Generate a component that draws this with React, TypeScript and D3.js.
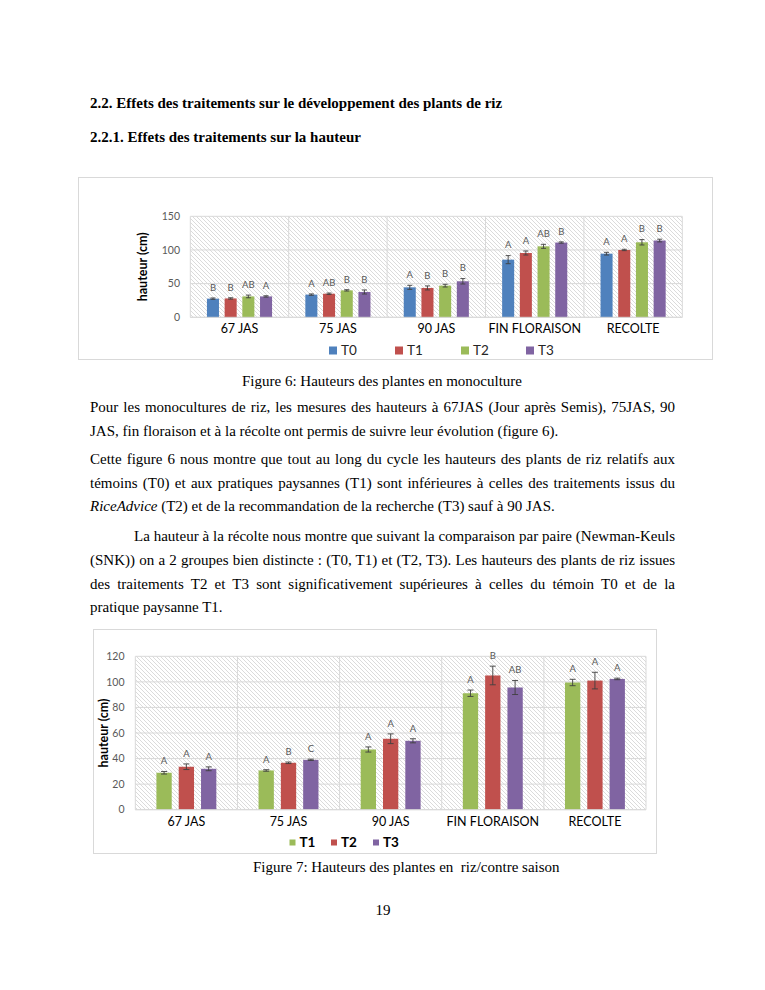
import React, { useEffect, useRef } from 'react';
import * as d3 from 'd3';

// ---- data ----
const categories = ['67 JAS', '75 JAS', '90 JAS', 'FIN FLORAISON', 'RECOLTE'];

// Figure 6 : monoculture
const monoNames = ['T0', 'T1', 'T2', 'T3'];
const monoColors = ['#4f81bd', '#c0504d', '#9bbb59', '#8064a2'];
const monoT0 = [27.7, 33.7, 44.5, 85.6, 94.5];
const monoT1 = [28.0, 35.0, 43.6, 95.5, 100.0];
const monoT2 = [31.0, 40.0, 47.0, 105.4, 111.4];
const monoT3 = [31.0, 37.6, 53.5, 111.0, 114.0];
const monoErrT0 = [1, 1, 3, 6, 2];
const monoErrT1 = [1, 1, 3, 3, 1];
const monoErrT2 = [2, 1, 2, 3, 4];
const monoErrT3 = [1, 3, 4, 1, 2];
const monoLetT0 = ['B', 'A', 'A', 'A', 'A'];
const monoLetT1 = ['B', 'AB', 'B', 'A', 'A'];
const monoLetT2 = ['AB', 'B', 'B', 'AB', 'B'];
const monoLetT3 = ['A', 'B', 'B', 'B', 'B'];
const monoTicks = [0, 50, 100, 150];

// Figure 7 : riz / contre saison
const csNames = ['T1', 'T2', 'T3'];
const csColors = ['#9bbb59', '#c0504d', '#8064a2'];
const csT1 = [28.9, 30.7, 47.1, 91.1, 99.5];
const csT2 = [33.6, 36.7, 55.5, 105.0, 101.0];
const csT3 = [32.0, 39.0, 53.9, 95.6, 102.3];
const csErrT1 = [1, 0.6, 2, 2.5, 2.5];
const csErrT2 = [2.2, 0.6, 3.8, 7.3, 6.5];
const csErrT3 = [1.5, 0.5, 1.6, 5.5, 0.6];
const csLetT1 = ['A', 'A', 'A', 'A', 'A'];
const csLetT2 = ['A', 'B', 'A', 'B', 'A'];
const csLetT3 = ['A', 'C', 'A', 'AB', 'A'];
const csTicks = [0, 20, 40, 60, 80, 100, 120];

const chartFont = 'Lato, "Open Sans", sans-serif';

interface ChartCfg {
  id: string;
  frame: { x: number; y: number; w: number; h: number };
  plot: { left: number; right: number; top: number; bottom: number };
  yMax: number;
  ticks: number[];
  tickX: number;
  titleX: number;
  catY: number;
  catSize: number;
  names: string[];
  colors: string[];
  values: number[][];
  errors: number[][];
  letters: string[][];
  padIn: number;
  padOut: number;
  capW: number;
  legendY: number;
  legendX: number[];
  legendSq: number;
  legendBold: boolean;
  legendSize: number;
}

function drawChart(node: SVGGElement, cfg: ChartCfg) {
  const g = d3.select(node);
  g.selectAll('*').remove();
  const { plot } = cfg;

  const x0 = d3.scaleBand<string>().domain(categories).range([plot.left, plot.right]);
  const x1 = d3
    .scaleBand<string>()
    .domain(cfg.names)
    .range([0, x0.bandwidth()])
    .paddingInner(cfg.padIn)
    .paddingOuter(cfg.padOut);
  const y = d3.scaleLinear().domain([0, cfg.yMax]).range([plot.bottom, plot.top]);

  // frame
  g.append('rect')
    .attr('x', cfg.frame.x + 0.5)
    .attr('y', cfg.frame.y + 0.5)
    .attr('width', cfg.frame.w)
    .attr('height', cfg.frame.h)
    .attr('fill', '#fff')
    .attr('stroke', '#d9d9d9');

  // hatched plot area
  const pat = g
    .append('defs')
    .append('pattern')
    .attr('id', cfg.id)
    .attr('patternUnits', 'userSpaceOnUse')
    .attr('width', 4)
    .attr('height', 4);
  pat.append('path')
    .attr('d', 'M-1,-1 L5,5 M-1,3 L1,5 M3,-1 L5,1')
    .attr('stroke', '#cccccc')
    .attr('stroke-width', 0.7);
  g.append('rect')
    .attr('x', plot.left)
    .attr('y', plot.top)
    .attr('width', plot.right - plot.left)
    .attr('height', plot.bottom - plot.top)
    .attr('fill', `url(#${cfg.id})`);

  // grid
  g.selectAll('line.hgrid')
    .data(cfg.ticks)
    .enter()
    .append('line')
    .attr('x1', plot.left)
    .attr('x2', plot.right)
    .attr('y1', (d) => y(d))
    .attr('y2', (d) => y(d))
    .attr('stroke', '#d9d9d9')
    .attr('stroke-width', 1);
  const edges = categories.map((c) => x0(c)!).concat([plot.right]);
  g.selectAll('line.vgrid')
    .data(edges)
    .enter()
    .append('line')
    .attr('x1', (d) => d)
    .attr('x2', (d) => d)
    .attr('y1', plot.top)
    .attr('y2', plot.bottom)
    .attr('stroke', '#d9d9d9')
    .attr('stroke-width', 1);

  // tick labels
  g.selectAll('text.tick')
    .data(cfg.ticks)
    .enter()
    .append('text')
    .attr('x', cfg.tickX)
    .attr('y', (d) => y(d))
    .attr('dy', '0.35em')
    .attr('text-anchor', 'end')
    .attr('font-family', chartFont)
    .attr('font-size', 10.5)
    .attr('fill', '#595959')
    .text((d) => d);

  // y title
  g.append('text')
    .attr('transform', `translate(${cfg.titleX},${(plot.top + plot.bottom) / 2}) rotate(-90)`)
    .attr('text-anchor', 'middle')
    .attr('dy', '0.35em')
    .attr('font-family', chartFont)
    .attr('font-size', 12.5)
    .attr('font-weight', 700)
    .attr('fill', '#000')
    .text('hauteur (cm)');

  // category labels
  g.selectAll('text.cat')
    .data(categories)
    .enter()
    .append('text')
    .attr('x', (d) => x0(d)! + x0.bandwidth() / 2)
    .attr('y', cfg.catY)
    .attr('dy', '0.35em')
    .attr('text-anchor', 'middle')
    .attr('font-family', chartFont)
    .attr('font-size', cfg.catSize)
    .attr('fill', '#000')
    .text((d) => d);

  // bars, error bars, letters
  cfg.names.forEach((name, si) => {
    const rows = categories.map((c, i) => ({
      c,
      v: cfg.values[si][i],
      e: cfg.errors[si][i],
      l: cfg.letters[si][i],
    }));
    const sg = g.append('g');
    const bx = (d: any) => x0(d.c)! + x1(name)!;
    const bw = x1.bandwidth();
    sg.selectAll('rect')
      .data(rows)
      .enter()
      .append('rect')
      .attr('x', bx)
      .attr('y', (d) => y(d.v))
      .attr('width', bw)
      .attr('height', (d) => y(0) - y(d.v))
      .attr('fill', cfg.colors[si]);
    const eg = sg
      .selectAll('g.err')
      .data(rows)
      .enter()
      .append('g')
      .attr('stroke', '#404040')
      .attr('stroke-width', 0.9);
    eg.append('line')
      .attr('x1', (d) => bx(d) + bw / 2)
      .attr('x2', (d) => bx(d) + bw / 2)
      .attr('y1', (d) => y(d.v - d.e))
      .attr('y2', (d) => y(d.v + d.e));
    eg.append('line')
      .attr('x1', (d) => bx(d) + bw / 2 - cfg.capW / 2)
      .attr('x2', (d) => bx(d) + bw / 2 + cfg.capW / 2)
      .attr('y1', (d) => y(d.v + d.e))
      .attr('y2', (d) => y(d.v + d.e));
    eg.append('line')
      .attr('x1', (d) => bx(d) + bw / 2 - cfg.capW / 2)
      .attr('x2', (d) => bx(d) + bw / 2 + cfg.capW / 2)
      .attr('y1', (d) => y(d.v - d.e))
      .attr('y2', (d) => y(d.v - d.e));
    sg.selectAll('text')
      .data(rows)
      .enter()
      .append('text')
      .attr('x', (d) => bx(d) + bw / 2)
      .attr('y', (d) => y(d.v + d.e) - 10.5)
      .attr('dy', '0.35em')
      .attr('text-anchor', 'middle')
      .attr('font-family', chartFont)
      .attr('font-size', 9.5)
      .attr('fill', '#595959')
      .text((d) => d.l);
  });

  // axis line at 0
  g.append('line')
    .attr('x1', plot.left)
    .attr('x2', plot.right)
    .attr('y1', y(0))
    .attr('y2', y(0))
    .attr('stroke', '#d9d9d9');

  // legend
  const lg = g
    .selectAll('g.legend')
    .data(cfg.names)
    .enter()
    .append('g')
    .attr('transform', (_, i) => `translate(${cfg.legendX[i]},${cfg.legendY})`);
  lg.append('rect')
    .attr('x', 0)
    .attr('y', -cfg.legendSq / 2)
    .attr('width', cfg.legendSq)
    .attr('height', cfg.legendSq)
    .attr('fill', (_, i) => cfg.colors[i]);
  lg.append('text')
    .attr('x', cfg.legendSq + 4)
    .attr('y', 0)
    .attr('dy', '0.35em')
    .attr('font-family', chartFont)
    .attr('font-size', cfg.legendSize)
    .attr('font-weight', cfg.legendBold ? 700 : 400)
    .attr('fill', cfg.legendBold ? '#000' : '#262626')
    .text((d) => d);
}

const monoCfg: ChartCfg = {
  id: 'hatch1',
  frame: { x: 78, y: 177, w: 634, h: 182 },
  plot: { left: 190.3, right: 682.3, top: 216.3, bottom: 317.3 },
  yMax: 150,
  ticks: monoTicks,
  tickX: 180,
  titleX: 143,
  catY: 329,
  catSize: 12.5,
  names: monoNames,
  colors: monoColors,
  values: [monoT0, monoT1, monoT2, monoT3],
  errors: [monoErrT0, monoErrT1, monoErrT2, monoErrT3],
  letters: [monoLetT0, monoLetT1, monoLetT2, monoLetT3],
  padIn: 0.32,
  padOut: 0.94,
  capW: 5,
  legendY: 350.5,
  legendX: [329, 395, 461, 526],
  legendSq: 8,
  legendBold: false,
  legendSize: 13.5,
};

const csCfg: ChartCfg = {
  id: 'hatch2',
  frame: { x: 93, y: 629, w: 563, h: 224 },
  plot: { left: 135.3, right: 646, top: 656.3, bottom: 809.7 },
  yMax: 120,
  ticks: csTicks,
  tickX: 124.5,
  titleX: 104,
  catY: 822,
  catSize: 12.5,
  names: csNames,
  colors: csColors,
  values: [csT1, csT2, csT3],
  errors: [csErrT1, csErrT2, csErrT3],
  letters: [csLetT1, csLetT2, csLetT3],
  padIn: 0.314,
  padOut: 0.946,
  capW: 6,
  legendY: 842.5,
  legendX: [289.5, 331, 373],
  legendSq: 6,
  legendBold: true,
  legendSize: 13.5,
};

const Chart: React.FC<{ cfg: ChartCfg }> = ({ cfg }) => {
  const ref = useRef<SVGGElement>(null);
  useEffect(() => {
    if (ref.current) drawChart(ref.current, cfg);
  }, [cfg]);
  return <g ref={ref} />;
};

// ---- page text ----
const serif = '"Liberation Serif", "Times New Roman", serif';

interface Line {
  y: number;
  text: React.ReactNode;
  justify: boolean;
  indent?: number;
}

const bodyLines: Line[] = [
  { y: 407, justify: true, text: 'Pour les monocultures de riz, les mesures des hauteurs à 67JAS (Jour après Semis), 75JAS, 90' },
  { y: 431, justify: false, text: 'JAS, fin floraison et à la récolte ont permis de suivre leur évolution (figure 6).' },
  { y: 459, justify: true, text: 'Cette figure 6 nous montre que tout au long du cycle les hauteurs des plants de riz relatifs aux' },
  { y: 482.5, justify: true, text: 'témoins (T0) et aux pratiques paysannes (T1) sont inférieures à celles des traitements issus du' },
  {
    y: 506,
    justify: false,
    text: (
      <>
        <i>RiceAdvice</i> (T2) et de la recommandation de la recherche (T3) sauf à 90 JAS.
      </>
    ),
  },
  { y: 536, justify: true, indent: 44, text: 'La hauteur à la récolte nous montre que suivant la comparaison par paire (Newman-Keuls' },
  { y: 559.5, justify: true, text: '(SNK)) on a 2 groupes bien distincte : (T0, T1) et (T2, T3). Les hauteurs des plants de riz issues' },
  { y: 583.5, justify: true, text: 'des traitements T2 et T3 sont significativement supérieures à celles du témoin T0 et de la' },
  { y: 607, justify: false, text: 'pratique paysanne T1.' },
];

export default function App() {
  return (
    <div
      style={{
        position: 'absolute',
        left: 0,
        top: 0,
        width: 765,
        height: 990,
        background: '#fff',
        fontFamily: serif,
        color: '#000',
      }}
    >
      <svg width={765} height={990} style={{ position: 'absolute', left: 0, top: 0 }}>
        <rect x={0} y={0} width={765} height={990} fill="#fff" />
        <text x={90} y={103} dy="0.35em" fontFamily={serif} fontWeight={700} fontSize={15}>
          2.2. Effets des traitements sur le développement des plants de riz
        </text>
        <text x={90} y={137} dy="0.35em" fontFamily={serif} fontWeight={700} fontSize={15}>
          2.2.1. Effets des traitements sur la hauteur
        </text>
        <Chart cfg={monoCfg} />
        <text x={382} y={381} dy="0.35em" textAnchor="middle" fontFamily={serif} fontSize={15}>
          Figure 6: Hauteurs des plantes en monoculture
        </text>
        <Chart cfg={csCfg} />
        <text x={253} y={867} dy="0.35em" fontFamily={serif} fontSize={15} style={{ whiteSpace: 'pre' }}>
          {'Figure 7: Hauteurs des plantes en  riz/contre saison'}
        </text>
        <text x={383} y={910} dy="0.35em" textAnchor="middle" fontFamily={serif} fontSize={15}>
          19
        </text>
      </svg>
      {bodyLines.map((l, i) => (
        <div
          key={i}
          style={{
            position: 'absolute',
            left: 90 + (l.indent || 0),
            top: l.y - 10,
            width: 585 - (l.indent || 0),
            height: 20,
            lineHeight: '20px',
            fontSize: 15,
            textAlign: l.justify ? 'justify' : 'left',
            textAlignLast: l.justify ? 'justify' : 'left',
            whiteSpace: 'nowrap',
          }}
        >
          {l.text}
        </div>
      ))}
    </div>
  );
}
